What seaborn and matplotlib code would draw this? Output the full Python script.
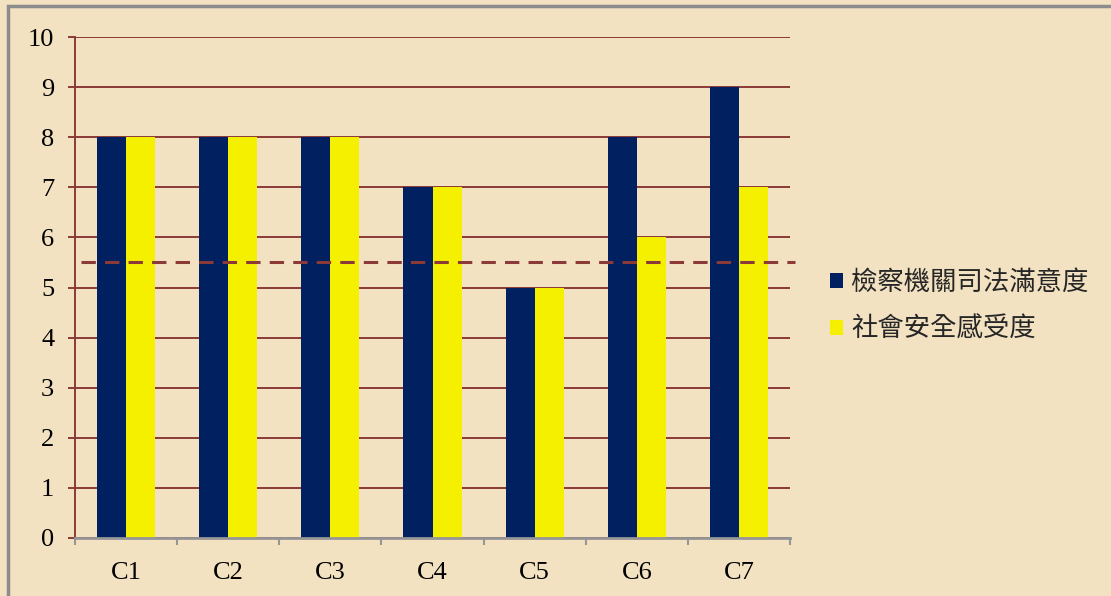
import pandas as pd
import matplotlib
matplotlib.use('Agg')
import matplotlib.pyplot as plt
from matplotlib.patches import Rectangle
import seaborn as sns

categories = ['C1', 'C2', 'C3', 'C4', 'C5', 'C6', 'C7']
satisfaction = [8, 8, 8, 7, 5, 8, 9]
safety = [8, 8, 8, 7, 5, 6, 7]
series_names = ['檢察機關司法滿意度', '社會安全感受度']
threshold = 5.5
y_ticks = list(range(0, 11))

BG = '#F3E2C2'
NAVY = '#002060'
YELLOW = '#F5EF00'
GRID = '#8B3A38'
AXIS_GRAY = '#969696'

sns.set_style('white')
plt.rcParams['font.family'] = ['Liberation Serif', 'DejaVu Serif']


def build_frame():
    df = pd.DataFrame({
        'category': categories * 2,
        'value': satisfaction + safety,
        'series': [series_names[0]] * len(categories) + [series_names[1]] * len(categories),
    })
    return df


def main():
    df = build_frame()
    fig = plt.figure(figsize=(11.11, 5.96), dpi=100)
    fig.patch.set_facecolor(BG)
    ax = fig.add_axes([75 / 1111, 58 / 596, 715 / 1111, 501 / 596])
    ax.set_facecolor('none')

    sns.barplot(data=df, x='category', y='value', hue='series', order=categories,
                hue_order=series_names, palette=[NAVY, YELLOW], width=0.57,
                saturation=1, linewidth=0, ax=ax, zorder=3)

    ax.set_xlim(-0.5, len(categories) - 0.5)
    ax.set_ylim(0, 10)
    ax.set_yticks(y_ticks)
    ax.yaxis.grid(True, color=GRID, linewidth=1.4)
    ax.xaxis.grid(False)
    ax.set_axisbelow(True)

    # threshold line drawn on top of the bars
    ax.plot([-0.44, len(categories) - 0.45], [threshold, threshold], color=GRID,
            linewidth=2.2, dashes=(4.7, 3), clip_on=False, zorder=5)

    for side in ['top', 'right']:
        ax.spines[side].set_visible(False)
    ax.spines['left'].set_color(GRID)
    ax.spines['left'].set_linewidth(1.4)
    ax.spines['bottom'].set_color(AXIS_GRAY)
    ax.spines['bottom'].set_linewidth(2)
    ax.spines['bottom'].set_zorder(4)

    ax.tick_params(axis='y', which='major', direction='out', length=5, width=1.4,
                   color=GRID, pad=10, labelsize=19, labelcolor='black', left=True)
    ax.set_xticks([i - 0.5 for i in range(len(categories) + 1)], minor=True)
    ax.tick_params(axis='x', which='minor', direction='out', length=5, width=1.5,
                   color=AXIS_GRAY, bottom=True)
    ax.tick_params(axis='x', which='major', length=0, pad=17, labelsize=19,
                   labelcolor='black')
    ax.set_xlabel('')
    ax.set_ylabel('')

    handles, labels = ax.get_legend_handles_labels()
    ax.get_legend().remove()
    fig.legend(handles, labels, loc='center left', bbox_to_anchor=(830 / 1111, 1 - 306 / 596),
               frameon=False, handlelength=0.5, handleheight=0.5, handletextpad=0.3,
               labelspacing=0.75, borderpad=0, borderaxespad=0,
               prop={'family': ['Noto Sans CJK TC', 'DejaVu Sans'], 'size': 19})

    # grey frame on the top and left edges
    fig.patches.append(Rectangle((8 / 1111, -0.1), 1.2, 1 - 6 / 596 + 0.1, transform=fig.transFigure,
                                 fill=False, edgecolor='#8C8C8C', linewidth=2.5, zorder=10))

    fig.savefig('out.png', dpi=100, facecolor=BG)
    plt.close(fig)


if __name__ == '__main__':
    main()
